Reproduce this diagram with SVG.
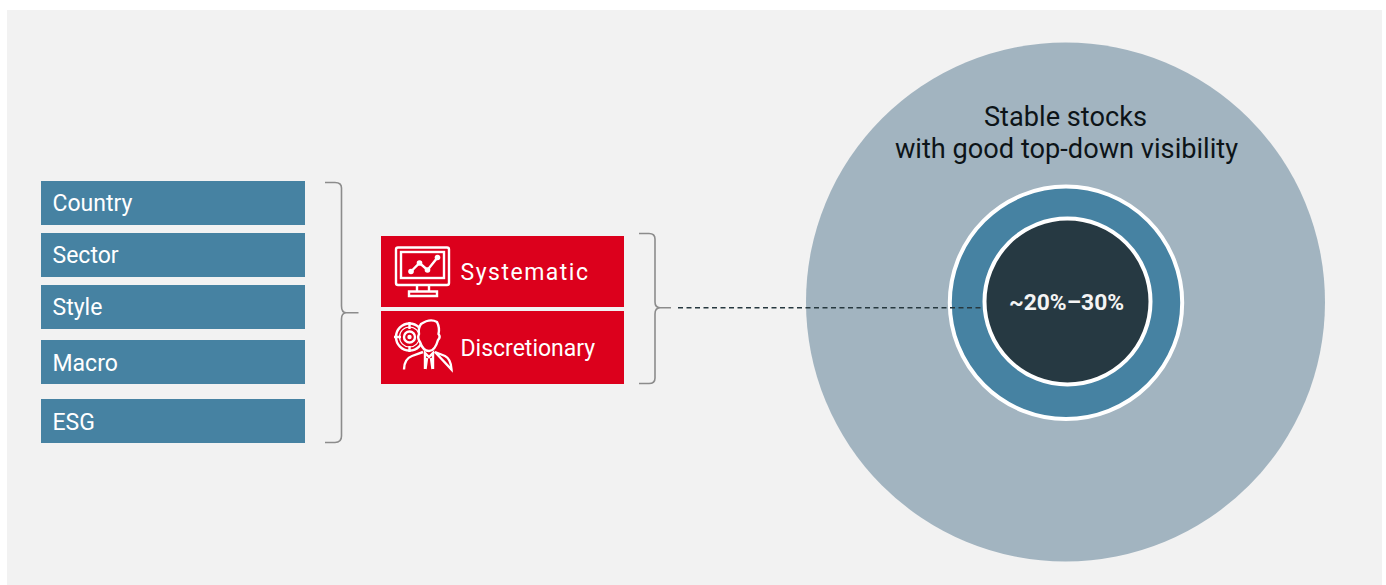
<svg xmlns="http://www.w3.org/2000/svg" width="1386" height="585" viewBox="0 0 1386 585">
<style>
.blue{fill:#4682a2}
.red{fill:#dc001c}
.lbl{font-family:Roboto,"Liberation Sans",sans-serif;font-size:23px;fill:#fff}
.rl{font-family:Roboto,"Liberation Sans",sans-serif;font-size:23px;fill:#fff}
.brace{fill:none;stroke:#8c8c8c;stroke-width:1.6}
.ico{fill:none;stroke:#fff;stroke-width:2.400}
.big{font-family:Roboto,"Liberation Sans",sans-serif;font-size:27.200px;fill:#0d1418;text-anchor:middle}
</style>
<rect width="1386" height="585" fill="#fff"/>
<rect x="7" y="10" width="1375" height="575" fill="#f2f2f2"/>
<g id="circle-outer"><circle cx="1065.500" cy="302" r="259.500" fill="#a2b4c0"/>
<text class="big" x="1065.500" y="126">Stable stocks</text>
<text class="big" x="1066.500" y="158">with good top-down visibility</text></g>
<g id="circle-middle"><circle cx="1066" cy="302.800" r="116.200" class="blue" stroke="#fff" stroke-width="4"/></g>
<g id="connectors">
<line x1="678" y1="307.700" x2="982" y2="307.700" stroke="#26383f" stroke-width="1.400" stroke-dasharray="5 3.500"/>
<path class="brace" d="M325 182.500H335Q341.500 182.500 341.500 188V306Q341.500 312.500 346 312.700H358.500M346 312.700Q341.500 313 341.500 319V436Q341.500 442.500 335 442.500H325"/>
<path class="brace" d="M639 233.500H649Q655 233.500 655 239V302Q655 307.500 660 307.800H671M660 307.800Q655 308 655 314V378Q655 383.500 649 383.500H639"/>
</g>
<g id="circle-inner"><circle cx="1067.500" cy="301.500" r="83" fill="#263942" stroke="#fff" stroke-width="4"/>
<text x="1066.500" y="310" font-family="Roboto,'Liberation Sans',sans-serif" font-size="22.800" font-weight="700" fill="#f4f4f4" text-anchor="middle">~20%–30%</text></g>
<g id="country"><rect class="blue" x="41" y="181" width="264" height="44"/><text class="lbl" x="52.500" y="211">Country</text></g>
<g id="sector"><rect class="blue" x="41" y="233" width="264" height="44"/><text class="lbl" x="52.500" y="263">Sector</text></g>
<g id="style"><rect class="blue" x="41" y="285" width="264" height="44"/><text class="lbl" x="52.500" y="315">Style</text></g>
<g id="macro"><rect class="blue" x="41" y="340" width="264" height="44"/><text class="lbl" x="52.500" y="371">Macro</text></g>
<g id="esg"><rect class="blue" x="41" y="399" width="264" height="44"/><text class="lbl" x="52.500" y="430">ESG</text></g>
<g id="systematic"><rect class="red" x="381" y="236" width="243" height="71"/>
<rect class="ico" x="396" y="247.500" width="53" height="37.500" rx="2"/>
<rect class="ico" x="401" y="252" width="43" height="26"/>
<path class="ico" d="M417 285V291.500M429 285V291.500M409 296V291.500H437V296ZM411 271.500L419.500 263L427.500 270L437.500 257.500"/>
<circle cx="411" cy="271.500" r="2.800" fill="#fff"/><circle cx="419.500" cy="263" r="2.800" fill="#fff"/><circle cx="427.500" cy="270" r="2.800" fill="#fff"/><circle cx="437.500" cy="257.500" r="2.800" fill="#fff"/>
<text class="rl" x="460.500" y="280" letter-spacing="1.500">Systematic</text></g>
<g id="discretionary"><rect class="red" x="381" y="311" width="243" height="73"/>
<circle class="ico" cx="409.500" cy="337" r="13.500"/><circle class="ico" cx="409.500" cy="337" r="10" style="stroke-width:1.200"/><circle class="ico" cx="409.500" cy="337" r="5.500"/>
<circle cx="409.500" cy="337" r="2.200" fill="#fff"/>
<path class="ico" d="M394 337H401M409.500 322V329M409.500 346V352"/>
<path class="ico" style="fill:#dc001c" d="M421 324Q430 318 437 322Q440 328 438.500 334Q441 337 438 340Q435 351 429 351Q423 351 420 342Q417 338 419 334Q418 328 421 324Z"/>
<path class="ico" d="M404 369.500Q404 359 412 356L423 352M435 352L445 356Q451 359 451.500 369.500ZM425 369V353L429 357L433 353V369M427 358L425.500 369M431 358L432.500 369"/>
<text class="rl" x="460.500" y="356">Discretionary</text></g>
</svg>
